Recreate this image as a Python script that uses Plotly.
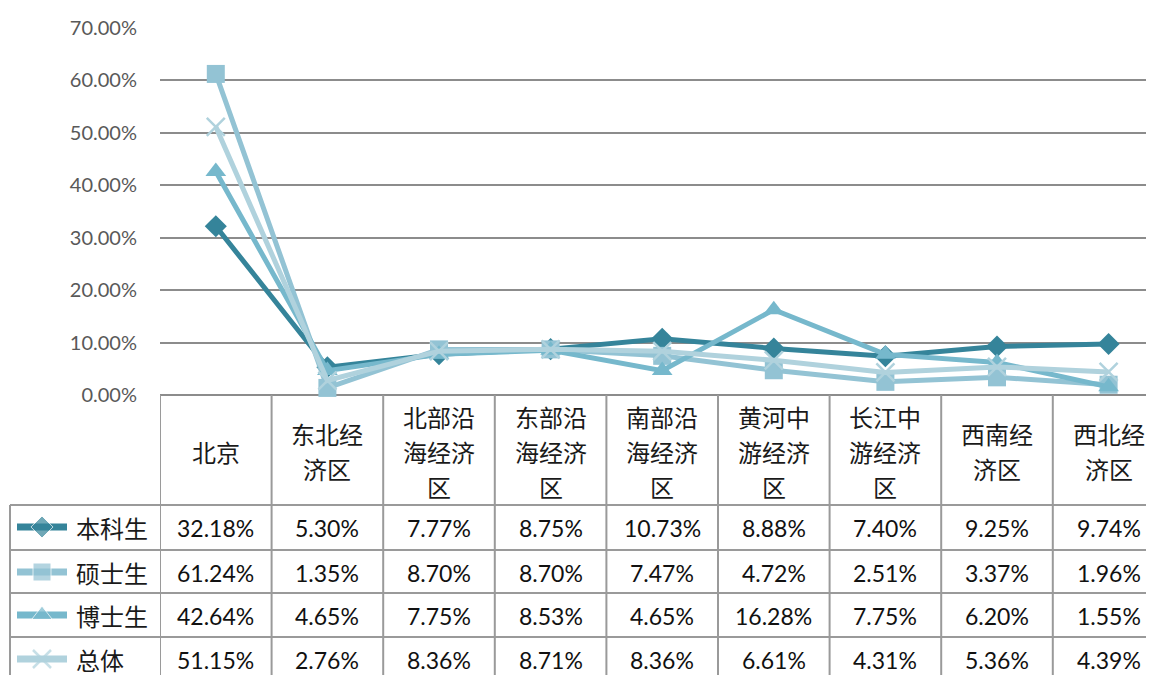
import plotly.graph_objects as go

categories = ["北京", "东北经济区", "北部沿海经济区", "东部沿海经济区", "南部沿海经济区",
              "黄河中游经济区", "长江中游经济区", "西南经济区", "西北经济区"]
header_lines = [["北京"], ["东北经", "济区"], ["北部沿", "海经济", "区"], ["东部沿", "海经济", "区"],
                ["南部沿", "海经济", "区"], ["黄河中", "游经济", "区"], ["长江中", "游经济", "区"],
                ["西南经", "济区"], ["西北经", "济区"]]
series_names = ["本科生", "硕士生", "博士生", "总体"]
undergrad = [32.18, 5.30, 7.77, 8.75, 10.73, 8.88, 7.40, 9.25, 9.74]
master = [61.24, 1.35, 8.70, 8.70, 7.47, 4.72, 2.51, 3.37, 1.96]
doctor = [42.64, 4.65, 7.75, 8.53, 4.65, 16.28, 7.75, 6.20, 1.55]
overall = [51.15, 2.76, 8.36, 8.71, 8.36, 6.61, 4.31, 5.36, 4.39]
y_ticks = [0, 10, 20, 30, 40, 50, 60, 70]

series_values = [undergrad, master, doctor, overall]
colors = ["#35849A", "#93C3D4", "#76B8CC", "#B0D2DD"]
symbols = ["diamond", "square", "triangle-up", "x-thin"]
msizes = [17, 18, 18, 18]

OFF = 8                      # page body margin
W, H = 1154 - OFF, 675 - OFF  # figure size
PL, PR, PT, PB = 160, 1154, 28, 395   # plot area in reference px
COLW = 111.6
xr = [-0.5, -0.5 + (PR - PL) / COLW]

def py(p):  # reference pixel y -> paper y
    return (H - (p - OFF)) / H

def px(p):  # reference pixel x -> paper x
    return (p - OFF) / W

fig = go.Figure()

for name, vals, c, s, ms in zip(series_names, series_values, colors, symbols, msizes):
    marker = dict(symbol=s, size=ms, color=c)
    if s == "x-thin":
        marker["line"] = dict(color=c, width=2.5)
    fig.add_trace(go.Scatter(
        x=categories, y=vals, name=name, mode="lines+markers",
        line=dict(color=c, width=5), marker=marker,
        cliponaxis=False, hoverinfo="skip", showlegend=False,
        xaxis="x", yaxis="y"))

# legend symbols in the table (overlay axes in reference pixels)
row_tops = [505, 550, 593, 637]
row_h = 44
for i, (name, c, s, ms) in enumerate(zip(series_names, colors, symbols, msizes)):
    yc = row_tops[i] + row_h / 2
    marker = dict(symbol=s, size=[0, ms, 0], color=c)
    if s == "x-thin":
        marker["line"] = dict(color=c, width=2.5)
    fig.add_trace(go.Scatter(
        x=[17, 42, 67], y=[yc, yc, yc], mode="lines+markers",
        line=dict(color=c, width=7),
        marker=marker,
        hoverinfo="skip", showlegend=False, xaxis="x2", yaxis="y2"))

shapes = []
grid_c = "#8C8C8C"
tab_c = "#9A9A9A"
for yy in row_tops:
    shapes.append(dict(type="line", xref="paper", yref="paper",
                       x0=px(10), x1=1.0, y0=py(yy), y1=py(yy),
                       line=dict(color=tab_c, width=2)))
for k in range(9):
    shapes.append(dict(type="line", xref="x", yref="paper",
                       x0=k - 0.5, x1=k - 0.5, y0=py(PB), y1=py(H + OFF + 5),
                       line=dict(color=tab_c, width=2)))
shapes.append(dict(type="line", xref="paper", yref="paper",
                   x0=px(10), x1=px(10), y0=py(505), y1=py(H + OFF + 5),
                   line=dict(color=tab_c, width=2)))

annotations = []
LINE_SP = 35
for k, lines in enumerate(header_lines):
    n = len(lines)
    for j, ln in enumerate(lines):
        yc = 451 + (j - (n - 1) / 2) * LINE_SP
        annotations.append(dict(x=k, y=py(yc), xref="x", yref="paper", text=ln,
                                showarrow=False, xanchor="center", yanchor="middle",
                                font=dict(family="Noto Sans CJK SC", size=24, color="#1a1a1a")))
for i, (name, vals) in enumerate(zip(series_names, series_values)):
    yc = row_tops[i] + row_h / 2
    annotations.append(dict(x=px(74), y=py(yc), xref="paper", yref="paper", text=name,
                            showarrow=False, xanchor="left", yanchor="middle",
                            font=dict(family="Noto Sans CJK SC", size=24, color="#1a1a1a")))
    for k, v in enumerate(vals):
        annotations.append(dict(x=k, y=py(yc + 1), xref="x", yref="paper",
                                text=f"{v:.2f}%", showarrow=False,
                                xanchor="center", yanchor="middle",
                                font=dict(family="Lato", size=23, color="#111111")))

fig.update_layout(
    width=W, height=H, autosize=False,
    margin=dict(l=0, r=0, t=0, b=0, autoexpand=False),
    paper_bgcolor="white", plot_bgcolor="rgba(0,0,0,0)",
    xaxis=dict(domain=[px(PL), 1.0], range=xr, type="category", automargin=False,
               showticklabels=False, showgrid=False, zeroline=False,
               showline=False, ticks="", fixedrange=True),
    yaxis=dict(domain=[py(PB), py(PT)], range=[0, 70], tickvals=y_ticks,
               ticktext=[f"{t:.2f}%" for t in y_ticks], automargin=False,
               showgrid=True, gridcolor=grid_c, gridwidth=2,
               zeroline=True, zerolinecolor=grid_c, zerolinewidth=2,
               showline=False, ticks="", ticklabelstandoff=22,
               tickfont=dict(family="Lato", size=20, color="#595959"),
               fixedrange=True),
    xaxis2=dict(domain=[0, 1], range=[OFF, W + OFF], visible=False, fixedrange=True,
                anchor="y2", automargin=False),
    yaxis2=dict(domain=[0, 1], range=[H + OFF, OFF], visible=False, fixedrange=True,
                anchor="x2", automargin=False),
    shapes=shapes, annotations=annotations,
)

fig.write_html("out.html")
